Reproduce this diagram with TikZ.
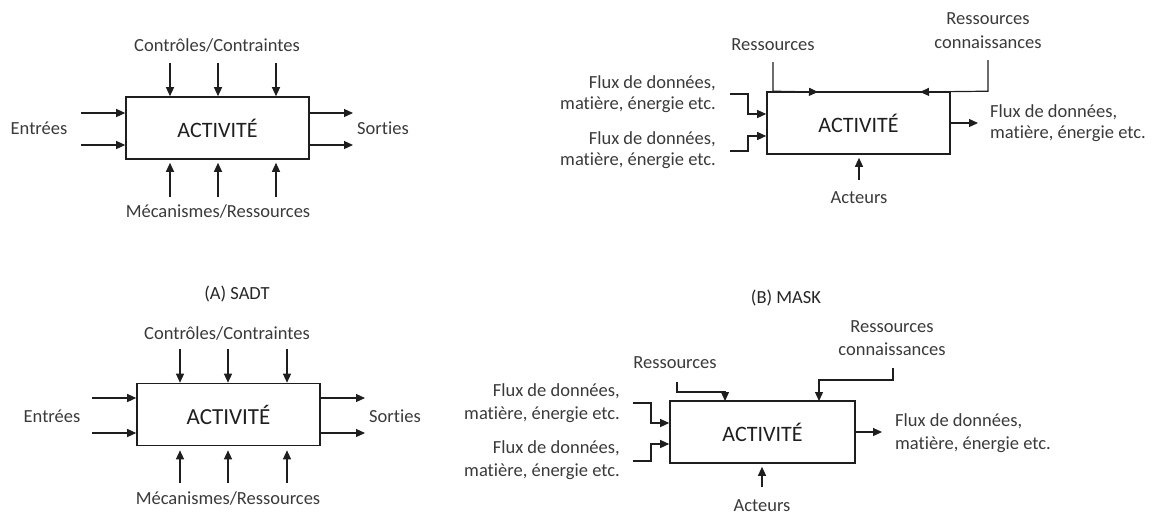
\documentclass[tikz,border=0pt]{standalone}
\usepackage{fontspec}
\setmainfont{Carlito}[Ligatures=NoCommon]
\usetikzlibrary{arrows.meta}
\definecolor{txt}{HTML}{3A3A3A}
\definecolor{ln}{HTML}{1E1E1E}
\begin{document}
\begin{tikzpicture}[x=1pt,y=-1pt,
  lbl/.style={inner sep=0pt, text=txt, font=\fontsize{18.5}{21}\selectfont},
  lbltwo/.style={lbl, font=\fontsize{18.5}{21}\selectfont},
  lblthree/.style={lbl, font=\fontsize{18.5}{22.5}\selectfont},
  captxt/.style={inner sep=0pt, text=black!85, font=\fontsize{18.5}{21}\selectfont},
  actbox/.style={draw=ln, line width=1.6pt, minimum width=183pt, minimum height=62pt,
    inner sep=0pt, text=black!88, font=\fontsize{22}{24}\selectfont},
  arr/.style={draw=ln, line width=1.2pt, -{Triangle[length=9pt,width=8pt]}},
  ]
\useasboundingbox (0,0) rectangle (1155,515);

% ---------------- Panel A (top-left) ----------------
\node[actbox] (A1) at (217.5,128) {ACTIVITÉ};
\node[lbl] (C1) at (217,45) {Contrôles/Contraintes};
\node[lbl] (M1) at (218,211) {Mécanismes/Ressources};
\node[lbl] (E1) at (39,128) {Entrées};
\node[lbl] (S1) at (383,128) {Sorties};
\foreach \x [count=\i] in {170,218,276} {
  \coordinate (a1t\i) at (\x,63);
  \draw[arr] (a1t\i) -- (a1t\i |- A1.north);
  \coordinate (a1b\i) at (\x,197);
  \draw[arr, shorten >=3pt] (a1b\i) -- (a1b\i |- A1.south);
}
\foreach \y [count=\i] in {113,145} {
  \coordinate (a1l\i) at (81,\y);
  \draw[arr] (a1l\i) -- (a1l\i -| A1.west);
  \coordinate (a1r\i) at (353,\y);
  \draw[arr] (a1r\i -| A1.east) -- (a1r\i);
}

% ---------------- Panel A (bottom-left) ----------------
\node[captxt] (T3) at (237,294) {(A) SADT};
\node[actbox, font=\fontsize{23}{25}\selectfont] (A3) at (228.5,414.5) {ACTIVITÉ};
\node[lbl] (C3) at (227,333) {Contrôles/Contraintes};
\node[lbl] (M3) at (228,498) {Mécanismes/Ressources};
\node[lbl] (E3) at (52,416) {Entrées};
\node[lbl] (S3) at (395,416) {Sorties};
\foreach \x [count=\i] in {180,228,287} {
  \coordinate (a3t\i) at (\x,349);
  \draw[arr] (a3t\i) -- (a3t\i |- A3.north);
  \coordinate (a3b\i) at (\x,483);
  \draw[arr, shorten >=4pt] (a3b\i) -- (a3b\i |- A3.south);
}
\foreach \y [count=\i] in {398,433} {
  \coordinate (a3l\i) at (92,\y);
  \draw[arr] (a3l\i) -- (a3l\i -| A3.west);
  \coordinate (a3r\i) at (365,\y);
  \draw[arr] (a3r\i -| A3.east) -- (a3r\i);
}

% ---------------- Panel B (top-right) ----------------
\node[actbox] (A2) at (858.5,123) {ACTIVITÉ};
\node[lbl] (R2) at (773,45) {Ressources};
\node[lbl, align=center, font=\fontsize{18.5}{24}\selectfont] (K2) at (988,31) {Ressources\\connaissances};
\node[lbltwo, align=right, anchor=east] (F2a) at (716,94) {Flux de données,\\matière, énergie etc.};
\node[lbltwo, align=right, anchor=east] (F2b) at (716,150) {Flux de données,\\matière, énergie etc.};
\node[lbltwo, align=left, anchor=west] (F2o) at (990,123) {Flux de données,\\matière, énergie etc.};
\node[lbl] (AC2) at (859,198) {Acteurs};
\coordinate (r2) at (773,62);
\coordinate (r2e) at (818,92);
\draw[arr] (r2) -- (r2 |- A2.north) -- (r2e);
\coordinate (k2) at (988,60);
\coordinate (k2e) at (920,92);
\draw[arr] (k2) -- (k2 |- A2.north) -- (k2e);
\coordinate (f2a) at (730,94);
\draw[arr] (f2a) -- ++(18,0) |- ([yshift=9pt]A2.west);
\coordinate (f2b) at (730,151);
\draw[arr] (f2b) -- ++(18,0) |- ([yshift=-13pt]A2.west);
\coordinate (o2) at (978,123);
\draw[arr] (A2.east) -- (o2);
\coordinate (ac2) at (859,180);
\draw[arr, shorten >=3pt] (ac2) -- (ac2 |- A2.south);

% ---------------- Panel B (bottom-right) ----------------
\node[captxt] (T4) at (786,298) {(B) MASK};
\node[actbox, minimum width=185pt] (A4) at (762.5,432) {ACTIVITÉ};
\node[lbl] (R4) at (675,363) {Ressources};
\node[lblthree, align=center] (K4) at (892,338) {Ressources\\connaissances};
\node[lblthree, align=right, anchor=east] (F4a) at (620,403) {Flux de données,\\matière, énergie etc.};
\node[lblthree, align=right, anchor=east] (F4b) at (620,460) {Flux de données,\\matière, énergie etc.};
\node[lblthree, align=left, anchor=west] (F4o) at (895,433) {Flux de données,\\matière, énergie etc.};
\node[lbl] (AC4) at (762,506) {Acteurs};
\coordinate (r4) at (677,382);
\coordinate (r4e) at (725,401);
\draw[arr] (r4) -- ++(0,10) -| (r4e);
\coordinate (k4) at (893,368);
\coordinate (k4e) at (819,401);
\draw[arr] (k4) -- ++(0,12) -| (k4e);
\coordinate (f4a) at (633,403);
\draw[arr] (f4a) -- ++(18,0) |- ([yshift=9pt]A4.west);
\coordinate (f4b) at (633,461);
\draw[arr] (f4b) -- ++(18,0) |- ([yshift=-12pt]A4.west);
\coordinate (o4) at (882,432);
\draw[arr] (A4.east) -- (o4);
\coordinate (ac4) at (762,487);
\draw[arr, shorten >=3pt] (ac4) -- (ac4 |- A4.south);
\end{tikzpicture}
\end{document}
